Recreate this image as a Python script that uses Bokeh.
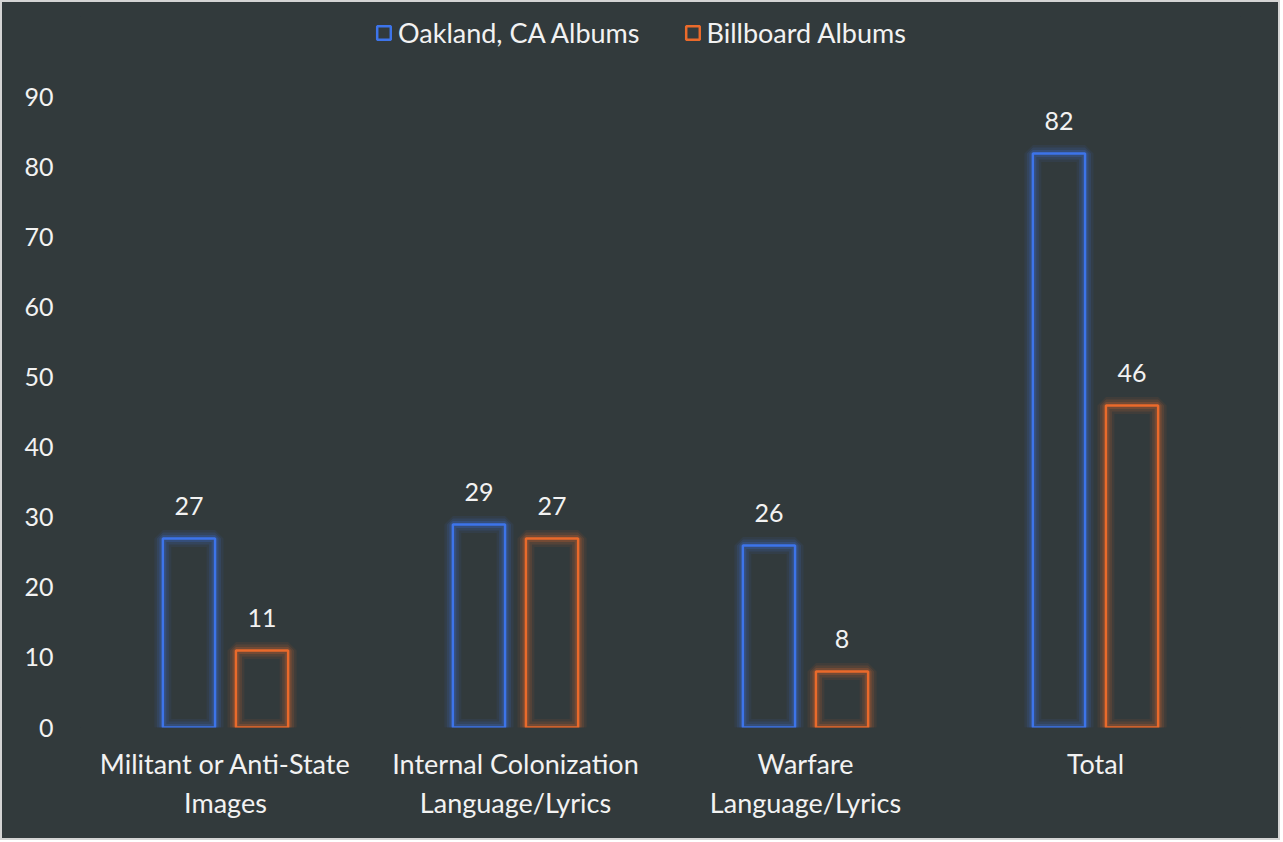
from bokeh.plotting import figure
from bokeh.layouts import column
from bokeh.models import FactorRange, Range1d, FixedTicker, ColumnDataSource, Legend, LegendItem
from bokeh.transform import dodge
from bokeh.core.properties import value
from bokeh.embed import file_html
from bokeh.resources import INLINE

categories = ["Militant or Anti-State\nImages", "Internal Colonization\nLanguage/Lyrics",
              "Warfare\nLanguage/Lyrics", "Total"]
oakland = [27, 29, 26, 82]
billboard = [11, 27, 8, 46]
y_ticks = [0, 10, 20, 30, 40, 50, 60, 70, 80, 90]
series_names = ["Oakland, CA Albums", "Billboard Albums"]

BG = "#323a3c"
BLUE = "#3d74ea"
ORANGE = "#ea6a2b"
FONT = "Lato"
TXT = "#f2f2f2"

src = ColumnDataSource(dict(cat=categories, oak=oakland, bb=billboard,
                            oak_t=[str(v) for v in oakland], bb_t=[str(v) for v in billboard]))

p = figure(width=1276, height=836, output_backend="svg", toolbar_location=None,
           x_range=FactorRange(*categories), y_range=Range1d(0, 101.57),
           min_border_left=78, min_border_right=38, min_border_top=14, min_border_bottom=111,
           background_fill_color=BG, border_fill_color=BG)
p.outline_line_color = None
p.styles = {"background-color": BG}

off = 0.126
w = 0.18
renderers = []
for field, col, o in [("oak", BLUE, -off), ("bb", ORANGE, off)]:
    xd = dodge("cat", o, range=p.x_range)
    for lw, a in [(17, 0.08), (12, 0.13), (7, 0.2)]:
        p.vbar(x=xd, top=field, width=w, source=src, fill_alpha=0,
               line_color=col, line_alpha=a, line_width=lw)
    r = p.vbar(x=xd, top=field, width=w, source=src, fill_alpha=0,
               line_color=col, line_width=2.5)
    renderers.append(r)
    p.text(x=xd, y=field, text=field + "_t", source=src, text_align="center",
           text_baseline="bottom", y_offset=-23, text_color=TXT,
           text_font=value(FONT), text_font_size="25px")

legend = Legend(items=[LegendItem(label=series_names[0], renderers=[renderers[0]]),
                       LegendItem(label=series_names[1], renderers=[renderers[1]])],
                location=(295, 678), orientation="horizontal",
                background_fill_alpha=0, border_line_color=None,
                label_text_color=TXT, label_text_font=FONT, label_text_font_size="27px",
                glyph_width=17, glyph_height=17, spacing=44, label_standoff=6,
                margin=0, padding=2)
p.add_layout(legend)

p.xgrid.grid_line_color = None
p.ygrid.grid_line_color = None
for ax in (p.xaxis[0], p.yaxis[0]):
    ax.axis_line_color = None
    ax.major_tick_line_color = None
    ax.minor_tick_line_color = None
    ax.major_label_text_color = TXT
    ax.major_label_text_font = FONT
p.yaxis.major_label_text_font_size = "25px"
p.xaxis.major_label_text_font_size = "27px"
p.yaxis.ticker = FixedTicker(ticks=y_ticks)
p.yaxis.major_label_standoff = 21
p.xaxis.major_label_standoff = 13
p.x_range.range_padding = 0
p.x_range.factor_padding = 0

page = column(p, styles={"border": "2px solid #d4d4d4", "background-color": BG})
open("out.html", "w").write(file_html(page, INLINE))
